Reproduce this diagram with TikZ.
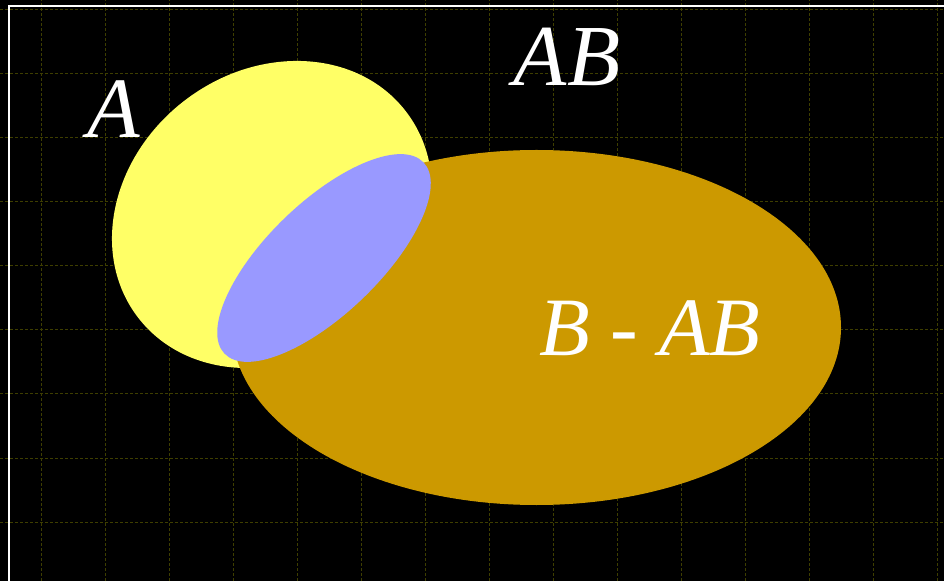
\documentclass[tikz,border=0pt]{standalone}
\usepackage{fontspec}
\setmainfont{Liberation Serif}
\usepackage{tikz}
\usetikzlibrary{arrows.meta,calc}
\definecolor{gridolive}{RGB}{62,62,0}
\definecolor{setA}{RGB}{255,255,102}
\definecolor{setB}{RGB}{204,153,0}
\definecolor{setAB}{RGB}{153,153,255}

\begin{document}
\begin{tikzpicture}[x=1pt,y=1pt,>=Stealth]
  \useasboundingbox (0,0) rectangle (944,581);
  \fill[black] (0,0) rectangle (944,581);
  \foreach \gx in {41,105,...,937}
    \draw[gridolive,line width=1pt,dash pattern=on 3pt off 2pt] (\gx,0) -- (\gx,581);
  \foreach \gy in {59,123,...,571}
    \draw[gridolive,line width=1pt,dash pattern=on 3pt off 2pt] (0,\gy) -- (944,\gy);
  \draw[white,line width=1.6pt] (9,-5) -- (9,575) -- (950,575);
  \fill[setA,shift={(272,366.5)},rotate=37.6] (0,0) ellipse [x radius=169pt,y radius=143.6pt];
  \fill[setB] (536.5,253.5) ellipse [x radius=304.5pt,y radius=177.5pt];
  \fill[setAB,shift={(324,323)},rotate=43.9] (0,0) ellipse [x radius=138pt,y radius=56pt];
  \node[white,anchor=base,inner sep=0pt,font=\fontsize{86}{90}\selectfont\itshape] (labelA) at (114,443) {A};
  \node[white,anchor=base,inner sep=0pt,font=\fontsize{87}{90}\selectfont\itshape] (labelAB) at (567,495) {AB};
  \node[white,anchor=base,inner sep=0pt,font=\fontsize{83}{90}\selectfont\itshape] (labelBAB) at (650,225) {B - AB};
\end{tikzpicture}
\end{document}
